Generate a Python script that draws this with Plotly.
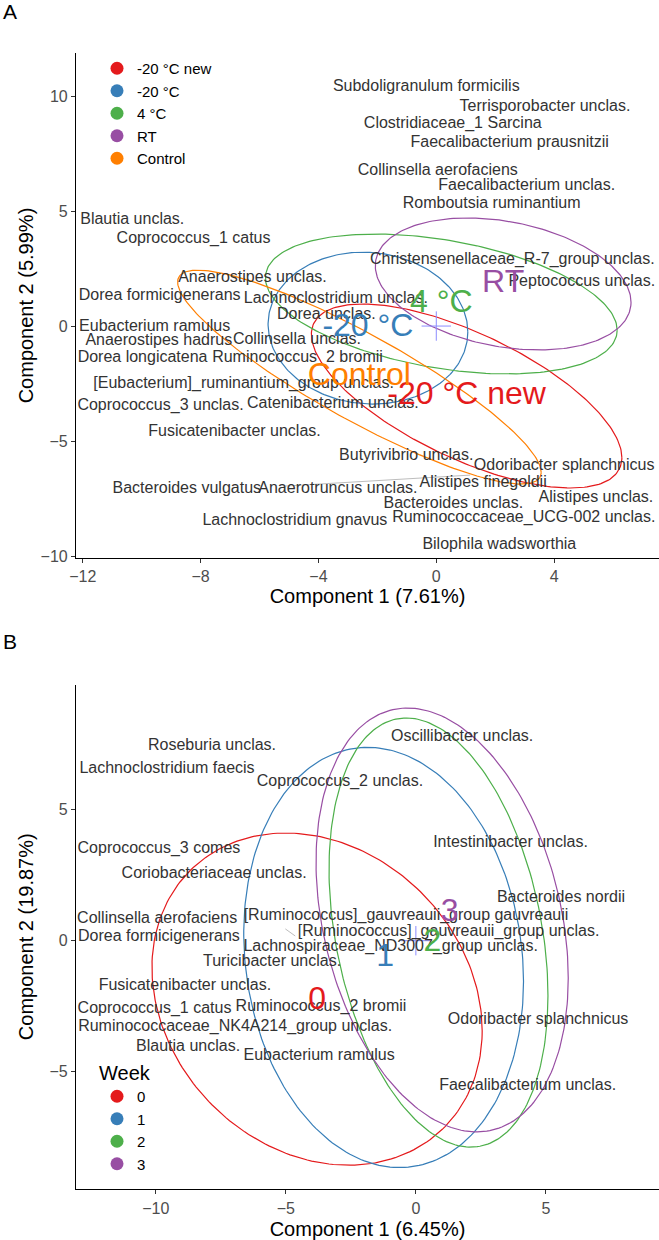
import numpy as np
import plotly.graph_objects as go

FONT = "Liberation Sans, Arial, sans-serif"
W, H = 659, 1240

# ---------------- Panel A data ----------------
a_groups = ["-20 °C new", "-20 °C", "4 °C", "RT", "Control"]
a_colors = ["#E41A1C", "#377EB8", "#4DAF4A", "#984EA3", "#FF7F00"]
a_cent_x = [1.03, -2.32, 0.17, 2.27, -2.61]
a_cent_y = [-3.04, -0.09, 0.96, 1.83, -2.22]
a_ell_sx = [5.27, 3.39, 5.97, 4.34, 6.17]
a_ell_sy = [4.00, 3.30, 3.04, 2.87, 4.65]
a_ell_rho = [-0.67, -0.05, -0.375, -0.277, -0.889]

a_labels = [
    "Subdoligranulum formicilis", "Terrisporobacter unclas.", "Clostridiaceae_1 Sarcina",
    "Faecalibacterium prausnitzii", "Collinsella aerofaciens", "Faecalibacterium unclas.",
    "Romboutsia ruminantium", "Blautia unclas.", "Coprococcus_1 catus",
    "Christensenellaceae_R-7_group unclas.", "Anaerostipes unclas.", "Peptococcus unclas.",
    "Dorea formicigenerans", "Lachnoclostridium unclas.", "Dorea unclas.",
    "Eubacterium ramulus", "Anaerostipes hadrus", "Collinsella unclas.",
    "Dorea longicatena", "Ruminococcus_2 bromii", "[Eubacterium]_ruminantium_group unclas.",
    "Coprococcus_3 unclas.", "Catenibacterium unclas.", "Fusicatenibacter unclas.",
    "Butyrivibrio unclas.", "Odoribacter splanchnicus", "Alistipes finegoldii",
    "Bacteroides vulgatus", "Anaerotruncus unclas.", "Alistipes unclas.",
    "Bacteroides unclas.", "Ruminococcaceae_UCG-002 unclas.", "Lachnoclostridium gnavus",
    "Bilophila wadsworthia",
]
a_lab_x = [-0.34, 3.69, 0.56, 2.49, 0.05, 3.07, 1.88, -10.32, -8.24, 2.58, -6.24, 4.94,
           -9.39, -3.41, -3.73, -9.56, -9.42, -4.73, -9.97, -4.71, -6.54, -9.36, -3.51,
           -6.85, -1.02, 4.34, 1.59, -8.47, -3.34, 5.42, 0.58, 2.97, -4.80, 2.14]
a_lab_y = [10.40, 9.53, 8.80, 7.96, 6.75, 6.10, 5.30, 4.61, 3.78, 2.86, 2.09, 1.90,
           1.30, 1.17, 0.49, -0.03, -0.65, -0.61, -1.39, -1.39, -2.52, -3.47, -3.39,
           -4.61, -5.64, -6.07, -6.83, -7.09, -7.09, -7.48, -7.74, -8.35, -8.47, -9.52]

a_seg_x0 = [-5.19]
a_seg_y0 = [-6.96]
a_seg_x1 = [1.15]
a_seg_y1 = [-6.48]

a_xticks = [-12, -8, -4, 0, 4]
a_yticks = [-10, -5, 0, 5, 10]

# ---------------- Panel B data ----------------
b_groups = ["0", "1", "2", "3"]
b_colors = ["#E41A1C", "#377EB8", "#4DAF4A", "#984EA3"]
b_cent_x = [-3.80, -1.18, 0.64, 1.30]
b_cent_y = [-2.32, -0.66, -0.09, 1.06]
b_ell_cx = [-3.80, -1.24, 0.87, 1.01]
b_ell_cy = [-2.23, -0.64, 0.31, 0.79]
b_ell_sx = [6.35, 5.38, 4.21, 4.85]
b_ell_sy = [6.34, 8.02, 8.19, 8.09]
b_ell_rho = [-0.19, -0.114, -0.294, -0.274]

b_labels = [
    "Roseburia unclas.", "Oscillibacter unclas.", "Lachnoclostridium faecis",
    "Coprococcus_2 unclas.", "Intestinibacter unclas.", "Coprococcus_3 comes",
    "Coriobacteriaceae unclas.", "Bacteroides nordii", "Collinsella aerofaciens",
    "[Ruminococcus]_gauvreauii_group gauvreauii", "[Ruminococcus]_gauvreauii_group unclas.",
    "Dorea formicigenerans", "Lachnospiraceae_ND3007_group unclas.", "Turicibacter unclas.",
    "Fusicatenibacter unclas.", "Ruminococcus_2 bromii", "Coprococcus_1 catus",
    "Odoribacter splanchnicus", "Ruminococcaceae_NK4A214_group unclas.", "Blautia unclas.",
    "Eubacterium ramulus", "Faecalibacterium unclas.",
]
b_lab_x = [-7.84, 1.78, -9.57, -2.92, 3.64, -9.88, -7.76, 5.58, -9.95, -0.38, 1.26,
           -9.88, -0.97, -5.53, -8.88, -3.65, -10.05, 4.70, -6.95, -8.76, -3.72, 4.30]
b_lab_y = [7.43, 7.77, 6.55, 6.06, 3.73, 3.50, 2.55, 1.63, 0.83, 0.95, 0.33,
           0.14, -0.24, -0.81, -1.72, -2.53, -2.61, -3.02, -3.29, -4.06, -4.39, -5.56]

b_seg_x0 = [-5.02]
b_seg_y0 = [0.45]
b_seg_x1 = [-4.64]
b_seg_y1 = [0.18]

b_xticks = [-10, -5, 0, 5]
b_yticks = [-5, 0, 5]

origin_x = [0]
origin_y = [0]

LABEL_COLOR = "#333333"
SEG_COLOR = "#BDBDBD"
CROSS_COLOR = "#8C8CFF"


def ellipse(cx, cy, sx, sy, rho, n=240):
    t = np.linspace(0, 2 * np.pi, n)
    x = cx + sx * np.cos(t)
    y = cy + sy * (rho * np.cos(t) + np.sqrt(1 - rho ** 2) * np.sin(t))
    return x, y


fig = go.Figure()


def add_panel(xa, ya, legend, groups, colors, cent_x, cent_y, ecx, ecy, esx, esy, erho,
              labels, lx, ly, sx0, sy0, sx1, sy1):
    for x0, y0, x1, y1 in zip(sx0, sy0, sx1, sy1):
        fig.add_trace(go.Scatter(x=[x0, x1], y=[y0, y1], mode="lines", xaxis=xa, yaxis=ya,
                                 line=dict(color=SEG_COLOR, width=1), showlegend=False,
                                 hoverinfo="skip"))
    for i, g in enumerate(groups):
        ex, ey = ellipse(ecx[i], ecy[i], esx[i], esy[i], erho[i])
        fig.add_trace(go.Scatter(x=ex, y=ey, mode="lines", xaxis=xa, yaxis=ya,
                                 line=dict(color=colors[i], width=1.2), showlegend=False,
                                 hoverinfo="skip"))
    fig.add_trace(go.Scatter(x=origin_x, y=origin_y, mode="markers", xaxis=xa, yaxis=ya,
                             marker=dict(symbol="cross-thin", size=21,
                                         line=dict(width=1, color=CROSS_COLOR)),
                             showlegend=False, hoverinfo="skip"))
    fig.add_trace(go.Scatter(x=lx, y=ly, text=labels, mode="text", xaxis=xa, yaxis=ya,
                             textposition="middle center", cliponaxis=False,
                             textfont=dict(family=FONT, size=16, color=LABEL_COLOR),
                             showlegend=False, hoverinfo="skip"))
    fig.add_trace(go.Scatter(x=cent_x, y=cent_y, text=groups, mode="text", xaxis=xa, yaxis=ya,
                             textposition="middle center", cliponaxis=False,
                             textfont=dict(family=FONT, size=32, color=colors),
                             showlegend=False, hoverinfo="skip"))
    for i, g in enumerate(groups):
        fig.add_trace(go.Scatter(x=[None], y=[None], mode="markers", xaxis=xa, yaxis=ya,
                                 marker=dict(size=13, color=colors[i]), name=g,
                                 legend=legend, showlegend=True))


add_panel("x", "y", "legend", a_groups, a_colors, a_cent_x, a_cent_y, a_cent_x, a_cent_y,
          a_ell_sx, a_ell_sy, a_ell_rho, a_labels, a_lab_x, a_lab_y,
          a_seg_x0, a_seg_y0, a_seg_x1, a_seg_y1)
add_panel("x2", "y2", "legend2", b_groups, b_colors, b_cent_x, b_cent_y, b_ell_cx, b_ell_cy,
          b_ell_sx, b_ell_sy, b_ell_rho, b_labels, b_lab_x, b_lab_y,
          b_seg_x0, b_seg_y0, b_seg_x1, b_seg_y1)

axis_common = dict(showline=True, linecolor="black", linewidth=1.1, ticks="outside",
                   ticklen=4, tickwidth=1, tickcolor="#333333", showgrid=False,
                   zeroline=False, automargin=False,
                   tickfont=dict(family=FONT, size=16, color="#4D4D4D"),
                   title_font=dict(family=FONT, size=20, color="black"))

ya_dom = [1 - 557.7 / H, 1 - 53 / H]
yb_dom = [1 - 1189.3 / H, 1 - 685 / H]
x_dom = [76 / W, 1.0]
title_font = dict(family=FONT, size=20, color="black")

fig.update_layout(
    width=W, height=H,
    margin=dict(l=0, r=0, t=0, b=0, pad=0, autoexpand=False),
    paper_bgcolor="white", plot_bgcolor="white",
    font=dict(family=FONT),
    xaxis=dict(domain=x_dom, anchor="y", range=[-12.23, 7.56], tickvals=a_xticks,
               title=dict(text="Component 1 (7.61%)", standoff=5), **axis_common),
    yaxis=dict(domain=ya_dom, anchor="x", range=[-10.07, 11.87],
               tickvals=a_yticks, **axis_common),
    xaxis2=dict(domain=x_dom, anchor="y2", range=[-13.07, 9.35], tickvals=b_xticks,
                title=dict(text="Component 1 (6.45%)", standoff=6), **axis_common),
    yaxis2=dict(domain=yb_dom, anchor="x2", range=[-9.49, 9.76],
                tickvals=b_yticks, **axis_common),
    legend=dict(x=97 / W, xanchor="left", y=1 - 52 / H, yanchor="top",
                bgcolor="rgba(0,0,0,0)", font=dict(family=FONT, size=15, color="black"),
                itemsizing="trace"),
    legend2=dict(x=97 / W, xanchor="left", y=1 - 1054 / H, yanchor="top",
                 bgcolor="rgba(0,0,0,0)", font=dict(family=FONT, size=15, color="black"),
                 title=dict(text="Week", font=dict(family=FONT, size=20, color="black")),
                 itemsizing="trace"),
    annotations=[
        dict(text="A", x=1 / W, y=1 - 12 / H, xref="paper", yref="paper", xanchor="left",
             yanchor="middle", showarrow=False, font=dict(family=FONT, size=21, color="black")),
        dict(text="B", x=1 / W, y=1 - 641 / H, xref="paper", yref="paper", xanchor="left",
             yanchor="middle", showarrow=False, font=dict(family=FONT, size=21, color="black")),
        dict(text="Component 2 (5.99%)", x=26 / W, y=sum(ya_dom) / 2, xref="paper",
             yref="paper", xanchor="center", yanchor="middle", textangle=-90,
             showarrow=False, font=title_font),
        dict(text="Component 2 (19.87%)", x=26 / W, y=sum(yb_dom) / 2, xref="paper",
             yref="paper", xanchor="center", yanchor="middle", textangle=-90,
             showarrow=False, font=title_font),
    ],
)

fig.write_html("out.html", config={"displayModeBar": False},
               post_script="document.body.style.margin='0';"
                           "document.body.style.overflow='hidden';")
